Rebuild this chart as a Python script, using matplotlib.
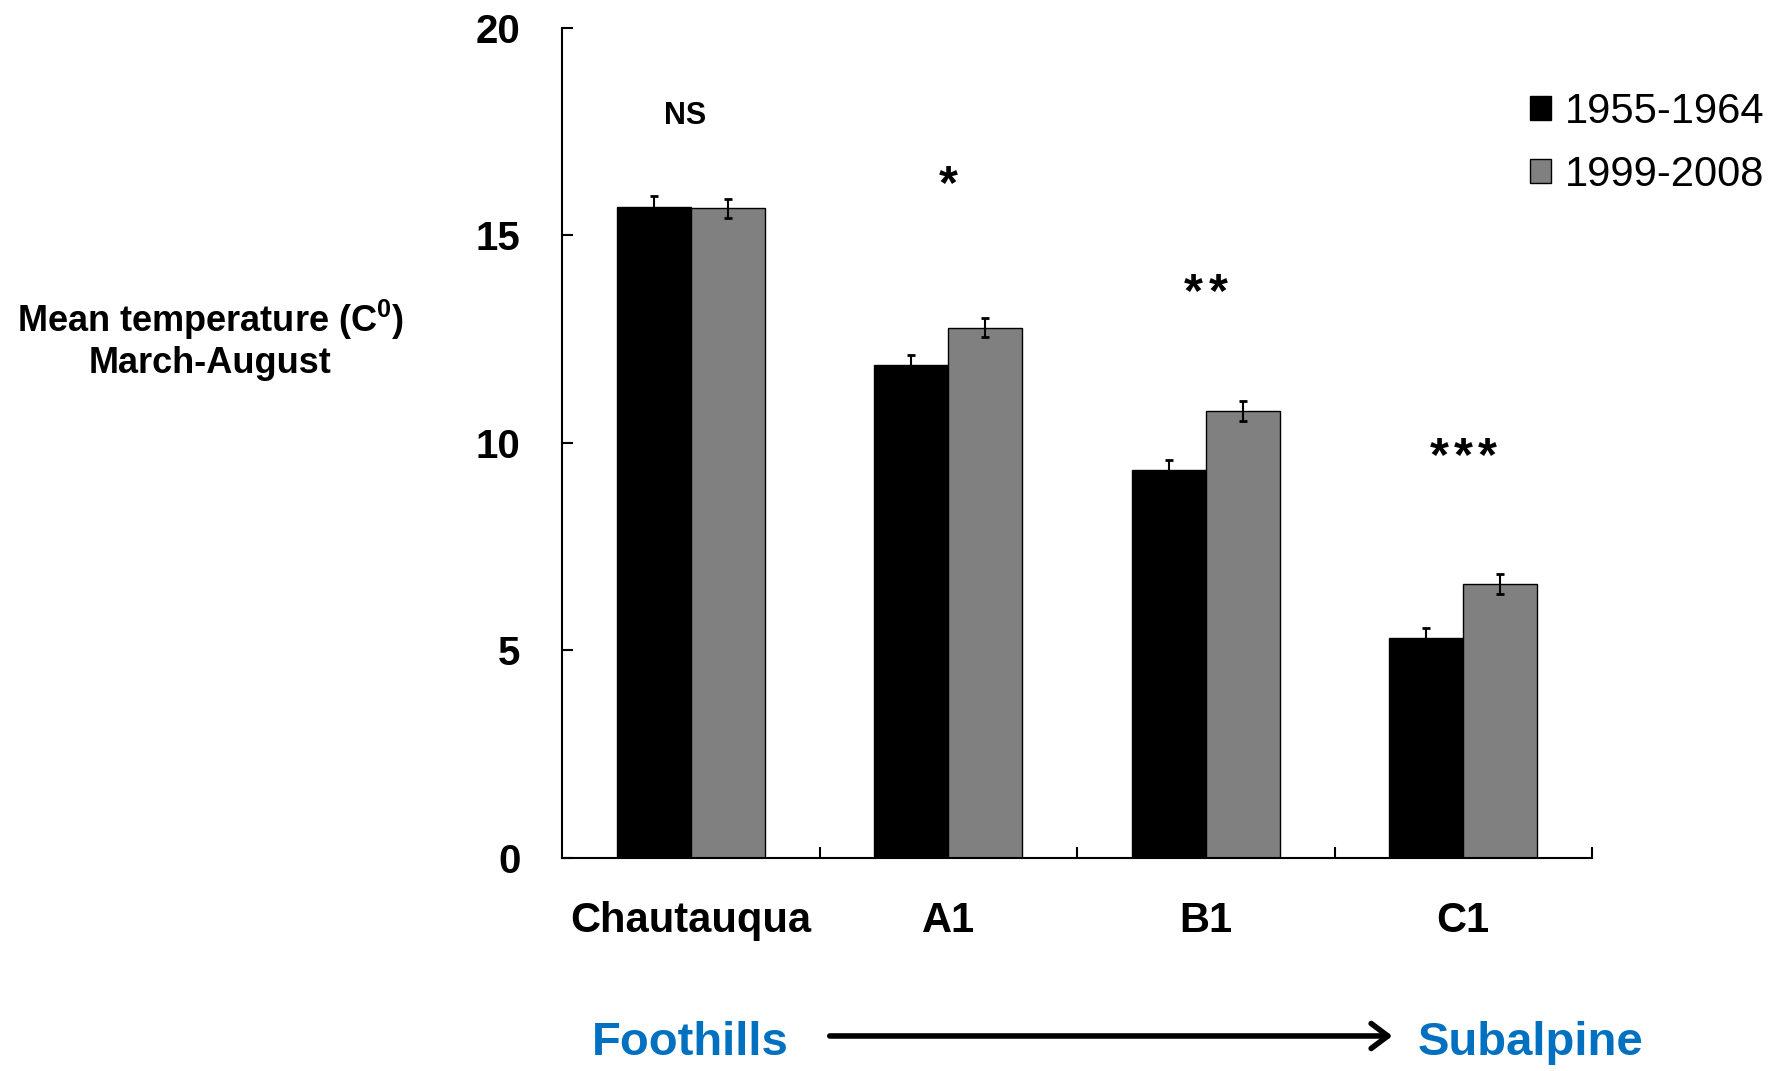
import matplotlib
matplotlib.use("Agg")
import matplotlib.pyplot as plt
import matplotlib.patches as mpatches
import numpy as np

plt.rcParams["font.family"] = ["Liberation Sans", "DejaVu Sans"]
plt.rcParams["mathtext.fontset"] = "custom"
plt.rcParams["mathtext.rm"] = "Liberation Sans"
plt.rcParams["mathtext.bf"] = "Liberation Sans:bold"

sites = ["Chautauqua", "A1", "B1", "C1"]
early = [15.68, 11.89, 9.36, 5.29]
early_err = [0.26, 0.22, 0.22, 0.24]
late = [15.65, 12.78, 10.77, 6.60]
late_err = [0.22, 0.23, 0.24, 0.25]
signif = ["NS", "*", "**", "***"]
signif_y = [17.87, 16.2, 13.6, 9.65]
labels = ["1955-1964", "1999-2008"]

fig = plt.figure(figsize=(17.83, 10.71), dpi=100)
ax = fig.add_axes([0.3152, 0.1989, 0.5777, 0.775])

x = np.arange(len(sites))
w = 0.287
ax.bar(x - w / 2, early, w, color="black", edgecolor="black", linewidth=1, label=labels[0])
ax.bar(x + w / 2, late, w, color="#808080", edgecolor="black", linewidth=1, label=labels[1])
ax.errorbar(x - w / 2, early, yerr=early_err, fmt="none", ecolor="black", elinewidth=1.5, capsize=3, capthick=2)
ax.errorbar(x + w / 2, late, yerr=late_err, fmt="none", ecolor="black", elinewidth=1.5, capsize=3, capthick=2)

# significance marks; asterisks drawn one by one so they can be spaced out
for i, s in enumerate(signif):
    if s == "NS":
        ax.text(x[i] - 0.02, signif_y[i], s, ha="center", va="center", fontsize=22, fontweight="bold")
        continue
    n = len(s)
    for k in range(n):
        off = (k - (n - 1) / 2) * 17.5
        ax.annotate("*", (x[i], signif_y[i]), xytext=(off, 0), textcoords="offset points",
                    ha="center", va="center", fontsize=35, fontweight="bold")

ax.set_xlim(-0.5, 3.5)
ax.set_ylim(0, 20)
ax.spines["top"].set_visible(False)
ax.spines["right"].set_visible(False)
ax.spines["left"].set_linewidth(1.5)
ax.spines["bottom"].set_linewidth(1.5)

ax.set_yticks([0, 5, 10, 15, 20])
ax.tick_params(axis="y", direction="in", length=8, width=1.5, pad=30, labelsize=29)
for t in ax.get_yticklabels():
    t.set_fontweight("bold")

ax.set_xticks([0.5, 1.5, 2.5, 3.5])
ax.set_xticklabels([])
ax.set_xticks(x, minor=True)
ax.set_xticklabels(sites, minor=True, fontsize=30, fontweight="bold")
ax.tick_params(axis="x", which="major", direction="in", length=8, width=1.5)
ax.tick_params(axis="x", which="minor", length=0, pad=31)

fig.text(0.118, 0.6835, "Mean temperature (C$^{\\mathbf{0}}$)\nMarch-August",
         ha="center", va="center", fontsize=26, fontweight="bold", linespacing=1.15)

handles = [mpatches.Patch(facecolor="black", edgecolor="black"),
           mpatches.Patch(facecolor="#808080", edgecolor="black")]
fig.legend(handles, labels, loc="upper left", bbox_to_anchor=(0.858, 0.914),
           frameon=False, fontsize=30, handlelength=0.5, handleheight=0.5,
           handletextpad=0.35, labelspacing=0.55, borderpad=0, borderaxespad=0)

fig.text(0.387, 0.026, "Foothills", ha="center", va="center", fontsize=34,
         fontweight="bold", color="#0070C0")
fig.text(0.8586, 0.026, "Subalpine", ha="center", va="center", fontsize=34,
         fontweight="bold", color="#0070C0")
fig.add_artist(mpatches.FancyArrowPatch((0.4638, 0.0327), (0.7825, 0.0327),
                                        transform=fig.transFigure,
                                        arrowstyle="->,head_length=0.4,head_width=0.3",
                                        mutation_scale=30, lw=4, color="black"))

fig.savefig("out.png", dpi=100)
